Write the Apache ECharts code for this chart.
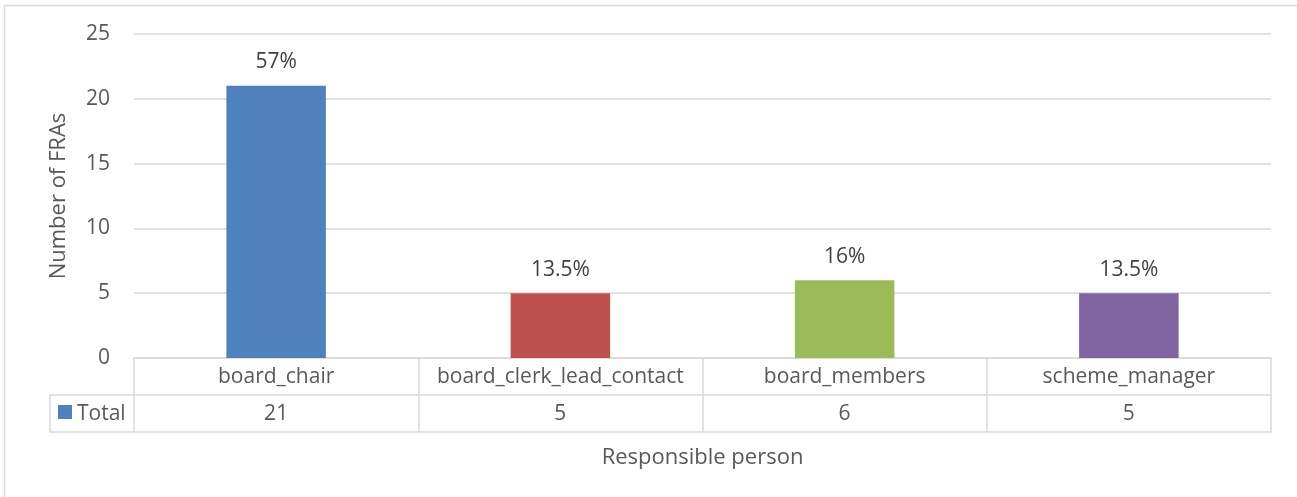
<!DOCTYPE html>
<html>
<head>
<meta charset="utf-8">
<script src="https://cdn.jsdelivr.net/npm/echarts@6/dist/echarts.min.js"></script>
<style>html,body{margin:0;padding:0;background:#fff;}#c{width:1297px;height:497px;}</style>
</head>
<body>
<div id="c"></div>
<script>
const categories = ['board_chair', 'board_clerk_lead_contact', 'board_members', 'scheme_manager'];
const totals = [21, 5, 6, 5];
const percentLabels = ['57%', '13.5%', '16%', '13.5%'];
const barColors = ['#4f81bd', '#c0504d', '#9bbb59', '#8064a2'];
const yTicks = { min: 0, max: 25, interval: 5 };
const seriesName = 'Total';

const FONT = '"Open Sans", Lato, sans-serif';
const FS = 21;
const FSN = 22;
const TXT = '#595959';
const LINE = '#d9d9d9';
const G = { left: 134, right: 26, top: 34, bottom: 139 };
const ROW = 37;

const chart = echarts.init(document.getElementById('c'), null, { renderer: 'canvas' });
chart.setOption({
  animation: false,
  textStyle: { fontFamily: FONT },
  grid: { left: G.left, right: G.right, top: G.top, bottom: G.bottom },
  xAxis: [
    {
      type: 'category', data: categories, position: 'bottom',
      axisLine: { show: true, lineStyle: { color: LINE, width: 1.5 } },
      axisTick: { show: true, interval: 0, alignWithLabel: false, length: ROW * 2, lineStyle: { color: LINE, width: 1.5 } },
      axisLabel: { interval: 0, hideOverlap: false, color: TXT, fontSize: FS, fontFamily: FONT, margin: 9 }
    },
    {
      type: 'category', data: categories, position: 'bottom', offset: ROW,
      axisLine: { show: true, lineStyle: { color: LINE, width: 1.5 } },
      axisTick: { show: false },
      axisLabel: { interval: 0, hideOverlap: false, color: TXT, fontSize: FS, fontFamily: FONT, margin: 9,
        formatter: (v, i) => String(totals[i]) }
    },
    {
      type: 'category', data: categories, position: 'bottom', offset: ROW * 2,
      axisLine: { show: true, lineStyle: { color: LINE, width: 1.5 } },
      axisTick: { show: false }, axisLabel: { show: false },
      name: 'Responsible person', nameLocation: 'middle', nameGap: 15,
      nameTextStyle: { color: TXT, fontSize: FSN, fontFamily: FONT }
    }
  ],
  yAxis: {
    type: 'value', min: yTicks.min, max: yTicks.max, interval: yTicks.interval,
    axisLine: { show: false }, axisTick: { show: false },
    axisLabel: { color: TXT, fontSize: FS, fontFamily: FONT, margin: 24 },
    splitLine: { lineStyle: { color: LINE, width: 1.5 } },
    name: 'Number of FRAs', nameLocation: 'middle', nameGap: 64,
    nameTextStyle: { color: TXT, fontSize: FSN, fontFamily: FONT }
  },
  series: [{
    name: seriesName, type: 'bar', barWidth: '35%', xAxisIndex: 0,
    data: totals.map((v, i) => ({ value: v, itemStyle: { color: barColors[i] } })),
    label: { show: true, position: 'top', distance: 13, color: '#404040', fontSize: FS, fontFamily: FONT,
      formatter: p => percentLabels[p.dataIndex] }
  }],
  graphic: [
    { type: 'rect', silent: true, shape: { x: 4.5, y: 5.5, width: 1400, height: 600 },
      style: { fill: 'none', stroke: LINE, lineWidth: 1.5 } },
    { type: 'polyline', silent: true,
      shape: { points: [[G.left, 497 - G.bottom + ROW], [50, 497 - G.bottom + ROW], [50, 497 - G.bottom + ROW * 2], [G.left, 497 - G.bottom + ROW * 2]] },
      style: { fill: 'none', stroke: LINE, lineWidth: 1.5 } },
    { type: 'rect', silent: true, shape: { x: 58, y: 405, width: 14, height: 14 }, style: { fill: barColors[0] } },
    { type: 'text', silent: true, x: 77, y: 414, style: { text: seriesName, fill: TXT, font: FS + 'px ' + FONT, textVerticalAlign: 'middle' } }
  ]
});
</script>
</body>
</html>
